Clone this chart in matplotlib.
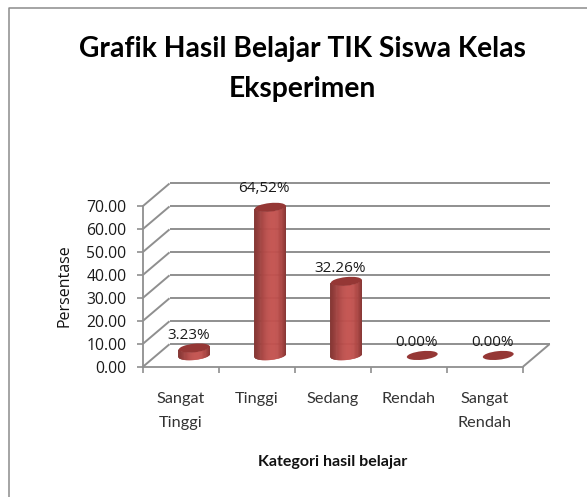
import numpy as np
import matplotlib
matplotlib.use("Agg")
import matplotlib.pyplot as plt
from matplotlib.collections import PolyCollection
from matplotlib.patches import Ellipse
from matplotlib.transforms import IdentityTransform
from matplotlib.colors import to_rgb

categories = ["Sangat\nTinggi", "Tinggi", "Sedang", "Rendah", "Sangat\nRendah"]
values = [3.23, 64.52, 32.26, 0.00, 0.00]
value_labels = ["3.23%", "64,52%", "32.26%", "0.00%", "0.00%"]
y_ticks = [0, 10, 20, 30, 40, 50, 60, 70]

W, H = 587, 497
DX, DY = 26.5, 22.5      # depth of the 3-D box, px
GRID = "#8f8f8f"
pid = IdentityTransform()

fig = plt.figure(figsize=(W / 100, H / 100), dpi=100, facecolor="white")
L, R, T, B = 143, 523, 206, 366.7
ax = fig.add_axes([L / W, 1 - B / H, (R - L) / W, (B - T) / H])
ax.set_xlim(0, 5)
ax.set_ylim(0, 70)
ax.patch.set_visible(False)
for s in ("top", "right"):
    ax.spines[s].set_visible(False)
for s in ("left", "bottom"):
    ax.spines[s].set_color(GRID)
    ax.spines[s].set_linewidth(1.3)

ax.set_yticks(y_ticks, [f"{v:.2f}" for v in y_ticks],
              family="Open Sans", fontsize=11.3, color="#1a1a1a")
ax.set_xticks(range(6))
ax.set_xticklabels([""] * 6)
ax.set_xticks(np.arange(5) + 0.5, categories, minor=True,
              family="Lato", fontsize=11.7, color="#333333", linespacing=1.96,
              multialignment="center")
ax.tick_params(axis="y", length=4, width=1.2, color=GRID, pad=8)
ax.tick_params(axis="x", which="major", length=4, width=1.2, color=GRID)
ax.tick_params(axis="x", which="minor", length=0, pad=18)


def px(x, y, f=0.0):
    """Data point to figure pixels, pushed back by a fraction f of the depth."""
    p = ax.transData.transform((x, y))
    return p[0] + f * DX, p[1] + f * DY


def line(a, b, **kw):
    ax.plot([a[0], b[0]], [a[1], b[1]], transform=pid, clip_on=False,
            color=GRID, lw=1.4, solid_capstyle="butt", **kw)


for v in y_ticks:
    line(px(0, v, 0), px(0, v, 1))
    line(px(0, v, 1), px(5, v, 1))
line(px(5, 0, 0), px(5, 0, 1))

# cylinders
A, BB, ANG = 15.5, 4.3, np.deg2rad(6)
base = np.array(to_rgb("#c0504d"))


def ell(t):
    x = A * np.cos(t)
    y = BB * np.sin(t)
    return x * np.cos(ANG) - y * np.sin(ANG), x * np.sin(ANG) + y * np.cos(ANG)


n = 48
ts = np.linspace(np.pi, 2 * np.pi, n + 1)
for i, v in enumerate(values):
    x0, y0 = px(i + 0.5, 0, 0.5)
    x1, y1 = px(i + 0.5, v, 0.5)
    if v > 0:
        polys, cols = [], []
        for k in range(n):
            ax0, ay0 = ell(ts[k])
            ax1, ay1 = ell(ts[k + 1])
            polys.append([(x0 + ax0, y0 + ay0), (x0 + ax1, y0 + ay1),
                          (x1 + ax1, y1 + ay1), (x1 + ax0, y1 + ay0)])
            u = (k + 0.5) / n
            shade = 0.66 + 0.36 * np.exp(-((u - 0.55) / 0.32) ** 2)
            cols.append(tuple(np.clip(base * shade, 0, 1)))
        ax.add_collection(PolyCollection(polys, facecolors=cols, edgecolors=cols,
                                         linewidths=0.4, transform=pid,
                                         clip_on=False, zorder=3), autolim=False)
    ax.add_patch(Ellipse((x1, y1), 2 * A, 2 * BB, angle=np.rad2deg(ANG),
                         facecolor="#953735", edgecolor="none",
                         transform=pid, clip_on=False, zorder=4))
    lift = 19 if i == 1 else 13
    ax.text(x1 - 6, y1 + lift, value_labels[i], transform=pid, ha="center",
            va="center", family="Open Sans", fontsize=11, color="#1a1a1a", zorder=5)

ax.set_ylabel("Persentase", family="Open Sans", fontsize=11.5, color="#111111")
ax.yaxis.set_label_coords((72 - L) / (R - L), (B - 286) / (B - T))
fig.text(333 / W, 1 - 462 / H, "Kategori hasil belajar", family="Lato",
         fontweight="bold", fontsize=11.5, ha="center", va="center", color="#111111")
fig.text(302 / W, 1 - 69 / H, "Grafik Hasil Belajar TIK Siswa Kelas\nEksperimen",
         family="Lato", fontweight="bold", fontsize=20.3, ha="center", va="center",
         multialignment="center", linespacing=1.64, color="#000000")

# chart border (left and top edges visible)
fig.add_artist(plt.Line2D([9.3 / W, 9.3 / W, 1], [0, 1 - 8 / H, 1 - 8 / H],
                          color="#8c8c8c", lw=1.1))
fig.savefig("out.png", dpi=100, facecolor="white")
